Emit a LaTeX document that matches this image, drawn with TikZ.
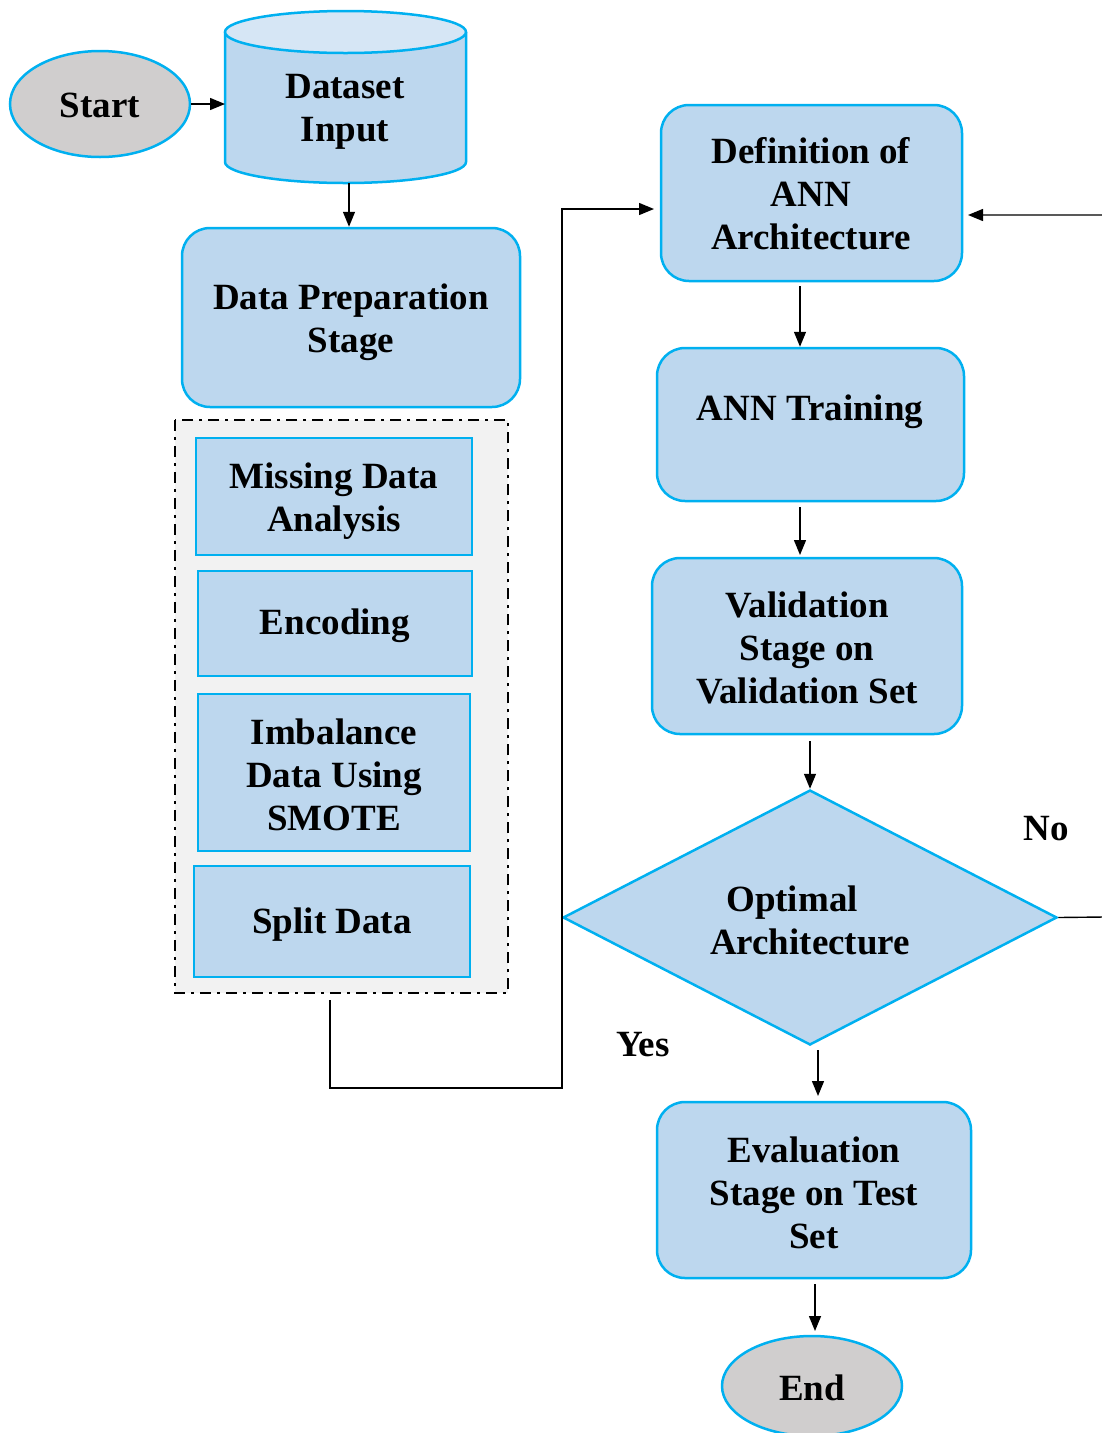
\documentclass[tikz,border=0pt]{standalone}
\usepackage{fontspec}
\setmainfont{Liberation Serif}
\usetikzlibrary{arrows.meta,shapes.geometric}
\definecolor{bfill}{HTML}{BDD7EE}
\definecolor{bline}{HTML}{00B0F0}
\definecolor{ctop}{HTML}{D6E6F5}
\definecolor{gfill}{HTML}{D0CECE}
\definecolor{dfill}{HTML}{F2F2F2}
\tikzset{
  txt/.style={font=\fontsize{37}{43}\selectfont\bfseries, align=center, inner sep=0pt},
  rbox/.style={draw=bline, fill=bfill, line width=2.5pt, rounded corners=28pt, inner sep=0pt},
  sbox/.style={draw=bline, fill=bfill, line width=2.5pt, inner sep=0pt},
  term/.style={ellipse, draw=bline, fill=gfill, line width=2.5pt, inner sep=0pt},
  conn/.style={line width=1.4pt, draw=black},
  arr/.style={conn, -{Triangle[length=15pt,width=12pt]}},
}
\begin{document}
\begin{tikzpicture}[x=1pt,y=-1pt]
\useasboundingbox (0,0) rectangle (1101,1433);

% Start
\node[term, minimum width=180, minimum height=106] (start) at (100,104) {};
\node[txt] at (100,105) {Start};

% Cylinder
\fill[bfill] (225,32) -- (225,162) arc[start angle=180, end angle=0, x radius=120.5, y radius=21] -- (466,32) -- cycle;
\draw[bline, line width=2.5pt] (225,32) -- (225,162) arc[start angle=180, end angle=0, x radius=120.5, y radius=21] -- (466,32);
\draw[bline, line width=2.5pt, fill=ctop] (345.5,32) ellipse[x radius=120.5, y radius=21];
\coordinate (dsleft) at (225,104);
\coordinate (dsbot) at (349,183);
\node[txt] (ds) at (345,112) {Dataset\\Input};

\draw[arr] (start.east) -- (dsleft);

% Data preparation
\node[rbox, minimum width=338, minimum height=179] (prep) at (351,317.5) {};
\node[txt] at (351,322) {Data Preparation\\Stage};
\draw[arr] (dsbot) -- (prep.north -| dsbot);

% Dashed group
\draw[fill=dfill, line width=2.5pt, dash pattern=on 11pt off 6pt on 3pt off 6pt] (175,420) rectangle (508,993);
\coordinate (grpbot) at (330,1000);

\node[sbox, minimum width=276, minimum height=117] (miss) at (334,496.5) {};
\node[txt] at (334,501) {Missing Data\\Analysis};
\node[sbox, minimum width=274, minimum height=105] (enc) at (335,623.5) {};
\node[txt] at (335,626) {Encoding};
\node[sbox, minimum width=272, minimum height=157] (imb) at (334,772.5) {};
\node[txt] at (334,775) {Imbalance\\Data Using\\SMOTE};
\node[sbox, minimum width=276, minimum height=111] (split) at (332,921.5) {};
\node[txt] at (332,925) {Split Data};

% Right column
\node[rbox, minimum width=301, minimum height=176] (def) at (811.5,193) {};
\node[txt] at (811,194) {Definition of\\ANN\\Architecture};

\node[rbox, minimum width=307, minimum height=153] (train) at (810.5,424.5) {};
\node[txt] at (810,412) {ANN Training};

\node[rbox, minimum width=310, minimum height=176] (val) at (807,646) {};
\node[txt] at (807,648) {Validation\\Stage on\\Validation Set};

\node[diamond, draw=bline, fill=bfill, line width=2.5pt, inner sep=0pt, minimum width=494, minimum height=255] (opt) at (810,917.5) {};
\node[txt] at (792,920) {Optimal\\\hspace*{36pt}Architecture};

\node[rbox, minimum width=314, minimum height=176] (eval) at (814,1190) {};
\node[txt] at (814,1193) {Evaluation\\Stage on Test\\Set};

\node[term, minimum width=180, minimum height=100] (end) at (812,1386) {};
\node[txt] at (812,1388) {End};

% arrows right column
\coordinate (a1) at (800,286);
\draw[arr] (a1) -- (a1 |- train.north);
\coordinate (a2) at (800,507);
\draw[arr] (a2) -- (800,555);
\coordinate (a3) at (810,741);
\draw[arr] (a3) -- (opt.north);
\coordinate (a4) at (818,1050);
\draw[arr] (a4) -- (818,1096);
\coordinate (a5) at (815,1284);
\draw[arr] (a5) -- (815,1331);

% loop from group to definition
\coordinate (defin) at (654,209);
\draw[arr] (grpbot) -- (330,1088) -- (562,1088) -- (562,209) -- (defin);

% No loop
\coordinate (defr) at (968,215);
\draw[arr] (opt.east) -- (1104,917) -- (1104,215) -- (defr);

\node[txt] (no) at (1046,829) {No};
\node[txt] (yes) at (643,1045) {Yes};
\end{tikzpicture}
\end{document}
